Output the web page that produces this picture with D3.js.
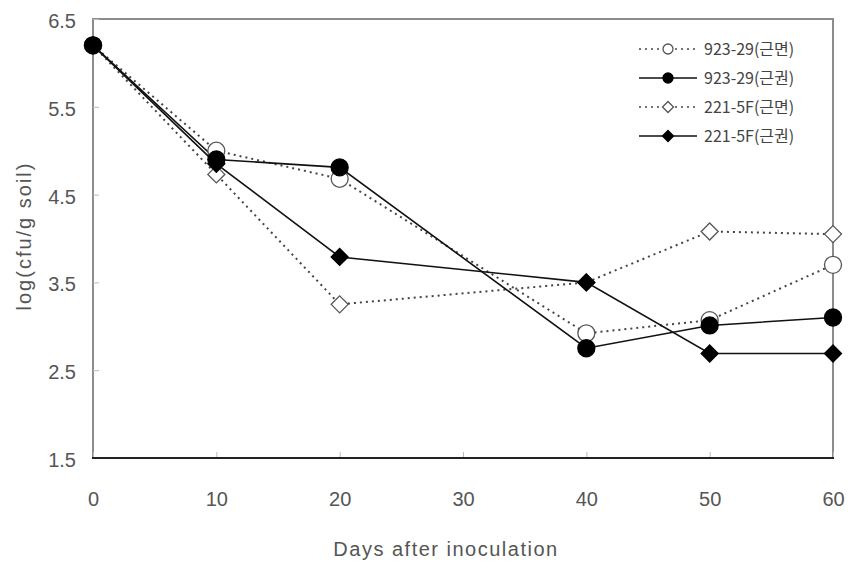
<!DOCTYPE html>
<html><head><meta charset="utf-8">
<script src="https://cdn.jsdelivr.net/npm/d3@7"></script>
<style>body{margin:0;background:#fff}svg{display:block}</style>
</head><body>
<svg id="c" width="849" height="564"></svg>
<script>
const days = [0, 10, 20, 40, 50, 60];
const seriesNames = ["923-29(근면)", "923-29(근권)", "221-5F(근면)", "221-5F(근권)"];
const s1 = [6.2, 5.0, 4.68, 2.92, 3.07, 3.7];
const s2 = [6.2, 4.9, 4.81, 2.75, 3.01, 3.1];
const s3 = [6.2, 4.73, 3.25, 3.5, 4.08, 4.05];
const s4 = [6.2, 4.85, 3.79, 3.5, 2.69, 2.69];
const xTicks = [0, 10, 20, 30, 40, 50, 60];
const yTicks = [1.5, 2.5, 3.5, 4.5, 5.5, 6.5];

const styles = [
  {marker: "circle", fill: "#fff", dash: "2,4"},
  {marker: "circle", fill: "#000", dash: null},
  {marker: "diamond", fill: "#fff", dash: "2,4"},
  {marker: "diamond", fill: "#000", dash: null}
];
const allSeries = [s1, s2, s3, s4];

const svg = d3.select("#c");
const L = 93, R = 833, T = 19, B = 458;
const x = d3.scaleLinear().domain([0, 60]).range([L, R]);
const y = d3.scaleLinear().domain([1.5, 6.5]).range([B, T]);
const FONT = "Liberation Sans, Arial, sans-serif";

// frame
svg.append("rect").attr("x", L).attr("y", T).attr("width", R - L).attr("height", B - T)
  .attr("fill", "none").attr("stroke", "#8c8c8c").attr("stroke-width", 2);

// axes
const xAxis = svg.append("g").attr("transform", `translate(0,${B})`)
  .call(d3.axisBottom(x).tickValues(xTicks).tickFormat(d3.format("d")).tickSize(-6).tickPadding(34));
const yAxis = svg.append("g").attr("transform", `translate(${L},0)`)
  .call(d3.axisLeft(y).tickValues(yTicks).tickFormat(d3.format(".1f")).tickSize(-6).tickPadding(17));
[xAxis, yAxis].forEach(g => {
  g.select(".domain").remove();
  g.selectAll(".tick line").attr("stroke", "#bbb").attr("stroke-width", 1);
  g.selectAll(".tick text").attr("fill", "#555").style("font-family", FONT).style("font-size", "20px");
});
yAxis.selectAll(".tick text").attr("dy", "0.42em");
// bottom axis darker
svg.append("line").attr("x1", L - 1).attr("x2", R + 1).attr("y1", B).attr("y2", B)
  .attr("stroke", "#222").attr("stroke-width", 2);

svg.append("text").attr("x", 446).attr("y", 556).attr("text-anchor", "middle")
  .attr("fill", "#555").style("font-family", FONT).style("font-size", "20px").style("letter-spacing", "1.5px")
  .text("Days after inoculation");
svg.append("text").attr("transform", `translate(31,236) rotate(-90)`).attr("text-anchor", "middle")
  .attr("fill", "#555").style("font-family", FONT).style("font-size", "20px").style("letter-spacing", "2px")
  .text("log(cfu/g soil)");

const line = d3.line().x((d, i) => x(days[i])).y(d => y(d));

function drawMarker(g, st, cx, cy, big) {
  if (st.marker === "circle") {
    const r = big ? 8.5 : 5;
    g.append("circle").attr("cx", cx).attr("cy", cy).attr("r", r)
      .attr("fill", st.fill).attr("stroke", st.fill === "#fff" ? "#555" : "#000").attr("stroke-width", 1.3);
  } else {
    const s = big ? 8.5 : 5.5;
    g.append("path").attr("d", `M${cx},${cy - s}L${cx + s},${cy}L${cx},${cy + s}L${cx - s},${cy}Z`)
      .attr("fill", st.fill).attr("stroke", st.fill === "#fff" ? "#555" : "#000").attr("stroke-width", 1.3);
  }
}

const order = [2, 0, 3, 1];
order.forEach(k => {
  const st = styles[k];
  svg.append("path").datum(allSeries[k]).attr("d", line).attr("fill", "none")
    .attr("stroke", st.dash ? "#444" : "#111").attr("stroke-width", st.dash ? 2 : 1.6)
    .attr("stroke-dasharray", st.dash);
});
order.forEach(k => {
  const st = styles[k];
  const g = svg.append("g");
  allSeries[k].forEach((v, i) => drawMarker(g, st, x(days[i]), y(v), true));
});

// legend
const lg = svg.append("g");
seriesNames.forEach((name, k) => {
  const st = styles[k];
  const yy = 49 + k * 29;
  lg.append("line").attr("x1", 639).attr("x2", 697).attr("y1", yy).attr("y2", yy)
    .attr("stroke", st.dash ? "#444" : "#111").attr("stroke-width", st.dash ? 1.5 : 1.6)
    .attr("stroke-dasharray", st.dash ? "2,4" : null);
  drawMarker(lg, st, 668, yy, false);
  lg.append("text").attr("x", 704).attr("y", yy + 6).attr("fill", "#444")
    .style("font-family", "Noto Sans CJK KR, sans-serif").style("font-size", "16px")
    .text(name);
});
</script>
</body></html>
